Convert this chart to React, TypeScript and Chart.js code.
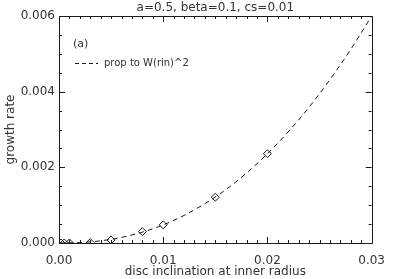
import React, { useEffect, useRef } from "react";
import { Chart, registerables } from "chart.js";

Chart.register(...registerables);

const TITLE = "a=0.5, beta=0.1, cs=0.01";
const X_LABEL = "disc inclination at inner radius";
const Y_LABEL = "growth rate";
const PANEL_LABEL = "(a)";
const LEGEND_LABEL = "prop to W(rin)^2";

// simulation points (diamonds)
const diamondX = [0.0002, 0.0005, 0.001, 0.003, 0.005, 0.008, 0.01, 0.015, 0.02];
const diamondY = [0.0, 0.0, 0.000002, 0.00001, 0.00008, 0.0003, 0.00048, 0.00121, 0.00236];

// dashed curve
const curveX = [0, 0.002, 0.004, 0.006, 0.008, 0.01, 0.012, 0.014, 0.016, 0.018, 0.02, 0.022, 0.024, 0.026, 0.028, 0.03];
const curveY = [0, 0.000012, 0.000058, 0.000148, 0.000287, 0.000479, 0.000729, 0.00104, 0.00141, 0.00185, 0.00236, 0.00294, 0.00359, 0.00432, 0.00512, 0.006];

const X_MAJOR = [0, 0.01, 0.02, 0.03];
const Y_MAJOR = [0, 0.002, 0.004, 0.006];
const X_MINOR_STEP = 0.001;
const Y_MINOR_STEP = 0.0005;

const FONT = "'DejaVu Sans', sans-serif";
const INK = "#1a1a1a";
const TEXT = "#333";

const framePlugin = {
  id: "idlFrame",
  afterDraw(chart: any) {
    const { ctx, chartArea: a, scales } = chart;
    const xs = scales.x;
    const ys = scales.y;
    ctx.save();
    ctx.strokeStyle = INK;
    ctx.lineWidth = 1;
    ctx.beginPath();
    ctx.rect(Math.round(a.left) + 0.5, Math.round(a.top) + 0.5, Math.round(a.right - a.left), Math.round(a.bottom - a.top));
    ctx.stroke();
    // ticks
    ctx.beginPath();
    const nx = Math.round((xs.max - xs.min) / X_MINOR_STEP);
    for (let i = 0; i <= nx; i++) {
      const v = xs.min + i * X_MINOR_STEP;
      const major = X_MAJOR.some((m) => Math.abs(m - v) < 1e-9);
      const len = major ? 6 : 3;
      const px = Math.round(xs.getPixelForValue(v)) + 0.5;
      ctx.moveTo(px, a.bottom);
      ctx.lineTo(px, a.bottom - len);
      ctx.moveTo(px, a.top);
      ctx.lineTo(px, a.top + len);
    }
    const ny = Math.round((ys.max - ys.min) / Y_MINOR_STEP);
    for (let i = 0; i <= ny; i++) {
      const v = ys.min + i * Y_MINOR_STEP;
      const major = Y_MAJOR.some((m) => Math.abs(m - v) < 1e-12);
      const len = major ? 6 : 3;
      const py = Math.round(ys.getPixelForValue(v)) + 0.5;
      ctx.moveTo(a.left, py);
      ctx.lineTo(a.left + len, py);
      ctx.moveTo(a.right, py);
      ctx.lineTo(a.right - len, py);
    }
    ctx.stroke();

    // texts
    ctx.fillStyle = TEXT;
    ctx.font = `12px ${FONT}`;
    ctx.textAlign = "center";
    ctx.textBaseline = "middle";
    const cx = (a.left + a.right) / 2;
    ctx.fillText(TITLE, cx, a.top - 8);
    ctx.fillText(X_LABEL, cx, a.bottom + 29);
    ctx.save();
    ctx.translate(11, (a.top + a.bottom) / 2);
    ctx.rotate(-Math.PI / 2);
    ctx.fillText(Y_LABEL, 0, 0);
    ctx.restore();

    // panel label and legend
    ctx.textAlign = "left";
    ctx.font = `11px ${FONT}`;
    ctx.fillText(PANEL_LABEL, a.left + 14, a.top + 28);
    ctx.font = `10px ${FONT}`;
    ctx.fillText(LEGEND_LABEL, a.left + 45, a.top + 47);
    ctx.setLineDash([4, 3]);
    ctx.beginPath();
    ctx.moveTo(a.left + 16, a.top + 47.5);
    ctx.lineTo(a.left + 39, a.top + 47.5);
    ctx.stroke();
    ctx.restore();
  },
};

export default function App() {
  const ref = useRef<HTMLCanvasElement>(null);
  useEffect(() => {
    document.body.style.margin = "0";
    const canvas = ref.current!;
    const chart = new Chart(canvas, {
      type: "scatter",
      data: {
        datasets: [
          {
            data: curveX.map((x, i) => ({ x, y: curveY[i] })),
            showLine: true,
            borderColor: INK,
            borderWidth: 1,
            borderDash: [5, 4],
            pointRadius: 0,
            cubicInterpolationMode: "monotone",
            fill: false,
          },
          {
            data: diamondX.map((x, i) => ({ x, y: diamondY[i] })),
            showLine: false,
            pointStyle: "rectRot",
            pointRadius: 4,
            borderColor: INK,
            borderWidth: 1,
            backgroundColor: "rgba(0,0,0,0)",
          },
        ],
      },
      options: {
        animation: false,
        responsive: false,
        events: [],
        layout: { padding: { top: 16, right: 15, left: 0, bottom: 0 } },
        plugins: { legend: { display: false }, tooltip: { enabled: false }, title: { display: false } },
        scales: {
          x: {
            type: "linear",
            min: 0,
            max: 0.03,
            grid: { display: false, drawTicks: false },
            border: { display: false },
            afterFit: (s: any) => { s.height = 36; },
            afterBuildTicks: (s: any) => { s.ticks = X_MAJOR.map((v) => ({ value: v })); },
            ticks: {
              padding: 11,
              color: TEXT,
              font: { family: FONT, size: 12 },
              maxRotation: 0,
              callback: (v: any) => Number(v).toFixed(2),
            },
          },
          y: {
            type: "linear",
            min: 0,
            max: 0.006,
            grid: { display: false, drawTicks: false },
            border: { display: false },
            afterFit: (s: any) => { s.width = 59; },
            afterBuildTicks: (s: any) => { s.ticks = Y_MAJOR.map((v) => ({ value: v })); },
            ticks: {
              padding: 4,
              color: TEXT,
              font: { family: FONT, size: 12 },
              callback: (v: any) => Number(v).toFixed(3),
            },
          },
        },
      },
      plugins: [framePlugin],
    });
    return () => chart.destroy();
  }, []);
  return (
    <div style={{ position: "absolute", left: 0, top: 0, width: 396, height: 279, background: "#fff" }}>
      <canvas ref={ref} width={396} height={279} style={{ width: 396, height: 279, display: "block" }} />
    </div>
  );
}
